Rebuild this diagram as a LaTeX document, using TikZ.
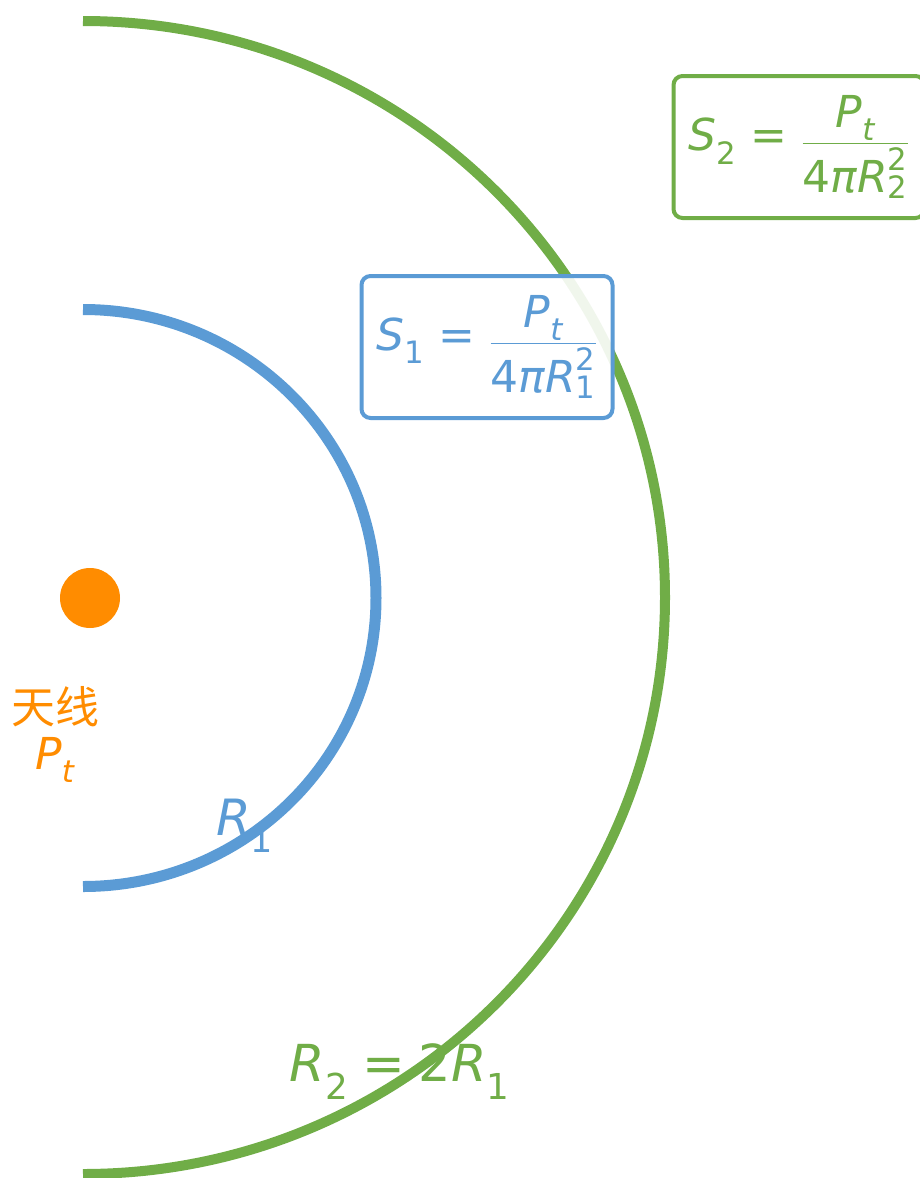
\documentclass[tikz,border=0pt]{standalone}
\usepackage{fontspec}
\usepackage{amsmath}
\setmainfont{DejaVu Sans}
\newfontfamily\cjk{Noto Sans CJK SC}
\definecolor{antorange}{HTML}{FF8C00}
\definecolor{waveblue}{HTML}{5B9BD5}
\definecolor{wavegreen}{HTML}{70AD47}
\newcommand{\vi}[1]{\text{\itshape #1}}
\newcommand{\vn}[1]{\text{#1}}
\newcommand{\veq}{\mathrel{\;\vn{=}\;}}
\tikzset{
  formbox/.style={draw=#1, text=#1, rounded corners=9pt, line width=4pt, fill=white,
    fill opacity=0.9, text opacity=1, minimum width=251pt, minimum height=142pt,
    font=\fontsize{44}{52}\selectfont},
  bigtext/.style={font=\fontsize{#1}{#1}\selectfont}
}
\begin{document}
\begin{tikzpicture}[x=1pt,y=-1pt]
\useasboundingbox (0,0) rectangle (919,1178);
\coordinate (src) at (83,598);
\node[antorange, circle, fill, minimum size=60pt, inner sep=0pt] (ant) at (90,598) {};
\node[antorange, bigtext=44] (antname) at (55,707) {\cjk 天线};
\node[antorange, bigtext=44] (antpower) at (55,760) {$\vi{P}_{\vi{t}}$};
\node[waveblue, bigtext=50] (rone) at (245,826) {$\vi{R}_{\vn{1}}$};
\node[wavegreen, bigtext=51] (rtwo) at (400,1072) {$\vi{R}_{\vn{2}}\veq\vn{2}\vi{R}_{\vn{1}}$};
\draw[waveblue, line width=11pt] (src) ++(0,288.5) arc[start angle=-90, end angle=90, x radius=293pt, y radius=288.5pt];
\draw[wavegreen, line width=10pt] (src) ++(0,576) arc[start angle=-90, end angle=90, x radius=582pt, y radius=576.5pt];
\node[formbox=waveblue] (sone) at (487,347) {$\vi{S}_{\vn{1}}\veq\dfrac{\;\vi{P}_{\vi{t}}\;}{\vn{4}\vi{πR}^{\vn{2}}_{\vn{1}}}$};
\node[formbox=wavegreen] (stwo) at (799,147) {$\vi{S}_{\vn{2}}\veq\dfrac{\;\vi{P}_{\vi{t}}\;}{\vn{4}\vi{πR}^{\vn{2}}_{\vn{2}}}$};
\end{tikzpicture}
\end{document}
